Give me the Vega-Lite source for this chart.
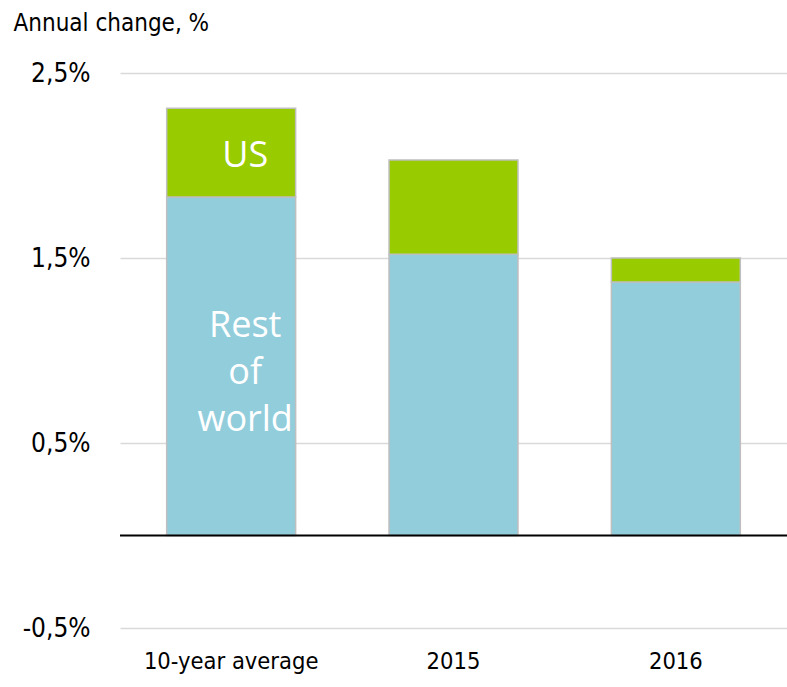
{
  "$schema": "https://vega.github.io/schema/vega-lite/v6.json",
  "width": 667,
  "height": 555,
  "autosize": {"type": "none"},
  "padding": {"left": 120, "top": 73, "right": 0, "bottom": 59},
  "background": "white",
  "config": {"view": {"stroke": null}},
  "datasets": {
    "bars": [
      {"period": "10-year average", "region": "Rest of world", "value": 1.83},
      {"period": "10-year average", "region": "US", "value": 0.48},
      {"period": "2015", "region": "Rest of world", "value": 1.52},
      {"period": "2015", "region": "US", "value": 0.51},
      {"period": "2016", "region": "Rest of world", "value": 1.37},
      {"period": "2016", "region": "US", "value": 0.13}
    ],
    "labels": [
      {"period": "10-year average", "label": ["US"], "value": 2.05},
      {"period": "10-year average", "label": ["Rest", "of", "world"], "value": 1.135}
    ]
  },
  "encoding": {
    "x": {
      "field": "period",
      "type": "nominal",
      "sort": null,
      "scale": {"paddingInner": 0.42, "paddingOuter": 0.21},
      "axis": {
        "title": null,
        "labelAngle": 0,
        "domain": false,
        "ticks": false,
        "labelPadding": 21,
        "labelFont": "'DejaVu Sans Condensed', 'Liberation Sans Narrow', 'Liberation Sans', sans-serif",
        "labelFontSize": 23.5,
        "labelColor": "#000000"
      }
    }
  },
  "layer": [
    {
      "data": {"name": "bars"},
      "mark": {"type": "bar", "stroke": "#BFBFBF", "strokeWidth": 1.5},
      "encoding": {
        "y": {
          "field": "value",
          "type": "quantitative",
          "stack": "zero",
          "scale": {"domain": [-0.5, 2.5], "nice": false, "zero": false},
          "axis": {
            "values": [-0.5, 0.5, 1.5, 2.5],
            "labelExpr": "replace(toString(datum.value), '.', ',') + '%'",
            "domain": false,
            "ticks": false,
            "grid": true,
            "gridColor": "#D9D9D9",
            "gridWidth": 1.5,
            "labelPadding": 30,
            "labelFont": "'DejaVu Sans Condensed', 'Liberation Sans Narrow', 'Liberation Sans', sans-serif",
            "labelFontSize": 26,
            "labelColor": "#000000",
            "title": "Annual change, %",
            "titleAngle": 0,
            "titleAlign": "left",
            "titleBaseline": "top",
            "titleX": -107,
            "titleY": -62,
            "titleFont": "'DejaVu Sans Condensed', 'Liberation Sans Narrow', 'Liberation Sans', sans-serif",
            "titleFontSize": 24,
            "titleFontWeight": "normal",
            "titleColor": "#000000"
          }
        },
        "color": {
          "field": "region",
          "type": "nominal",
          "scale": {"domain": ["Rest of world", "US"], "range": ["#92CDDC", "#99CC00"]},
          "legend": null
        },
        "order": {"field": "region", "sort": "ascending"}
      }
    },
    {
      "data": {"values": [{"v": 0}]},
      "mark": {"type": "rule", "color": "#000000", "strokeWidth": 2},
      "encoding": {
        "x": null,
        "y": {"field": "v", "type": "quantitative"}
      }
    },
    {
      "data": {"name": "labels"},
      "mark": {
        "type": "text",
        "color": "#FFFFFF",
        "font": "Open Sans",
        "fontSize": 36,
        "lineHeight": 47,
        "align": "center",
        "baseline": "middle",
        "dx": 14
      },
      "encoding": {
        "y": {"field": "value", "type": "quantitative"},
        "text": {"field": "label"}
      }
    }
  ]
}
